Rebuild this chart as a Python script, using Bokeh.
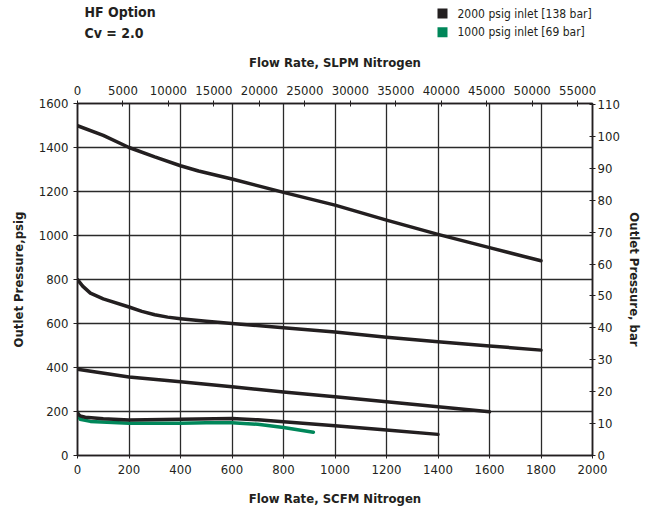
from bokeh.plotting import figure
from bokeh.layouts import column
from bokeh.models import LinearAxis, Range1d, FixedTicker, Label
from bokeh.embed import file_html
from bokeh.resources import INLINE

SCFM_TO_SLPM = 28.3168
PSI_PER_BAR = 14.5038

# axis ticks
scfm_ticks = list(range(0, 2001, 200))
psig_ticks = list(range(0, 1601, 200))
slpm_ticks = list(range(0, 55001, 5000))
bar_ticks = list(range(0, 111, 10))

# 2000 psig inlet curves (SCFM, psig)
c1_x = [0, 100, 200, 300, 400, 470, 600, 800, 1000, 1200, 1400, 1600, 1800]
c1_y = [1499, 1455, 1400, 1357, 1317, 1293, 1257, 1196, 1138, 1070, 1005, 945, 885]

c2_x = [0, 20, 50, 100, 200, 250, 300, 350, 400, 500, 600, 800, 1000, 1200, 1400, 1600, 1800]
c2_y = [800, 770, 738, 712, 675, 655, 640, 629, 622, 610, 600, 581, 561, 538, 517, 498, 479]

c3_x = [0, 200, 400, 600, 800, 1000, 1200, 1400, 1600]
c3_y = [392, 357, 335, 312, 289, 267, 244, 222, 199]

c4_x = [0, 10, 30, 100, 200, 400, 600, 700, 800, 1000, 1200, 1400]
c4_y = [192, 180, 174, 167, 161, 165, 168, 162, 153, 135, 116, 96]

# 1000 psig inlet curve
g_x = [0, 10, 50, 200, 400, 500, 600, 700, 800, 916]
g_y = [196, 165, 155, 147, 147, 149, 149, 142, 127, 106]

series_labels = ["2000 psig inlet [138 bar]", "1000 psig inlet [69 bar]"]
title_lines = ["HF Option", "Cv = 2.0"]

BLACK = "#231f20"
GREEN = "#00875a"
series_colors = [BLACK, GREEN]
FONT = "DejaVu Sans Condensed, Roboto"

W = 650
HEAD_H = 46
BL, BR = 77, 58  # left / right borders of the chart frame (px)

# ---------- header strip (titles + legend), pixel coordinates ----------
head = figure(width=W, height=HEAD_H, y_range=Range1d(HEAD_H, 0),
              x_axis_type=None, y_axis_type=None, output_backend="svg",
              toolbar_location=None, min_border_top=0, min_border_bottom=0,
              outline_line_color=None)
if "frame_align" in head.properties():
    head.frame_align = False
    head.min_border_left = 0
    head.min_border_right = 0
    head.x_range = Range1d(0, W)
else:
    head.min_border_left = BL
    head.min_border_right = BR
    head.x_range = Range1d(BL, W - BR)
head.grid.visible = False

for txt, yy in zip(title_lines, (11.7, 32.3)):
    head.add_layout(Label(x=84, y=yy, text=txt, text_font=FONT, text_font_style="bold",
                          text_font_size="14px", text_color=BLACK, text_baseline="middle"))

leg_y = [13.0, 31.7]
head.quad(left=[437, 437], right=[447, 447],
          top=[y - 5 for y in leg_y], bottom=[y + 5 for y in leg_y],
          fill_color=series_colors, line_color=None)
for txt, yy in zip(series_labels, leg_y):
    head.add_layout(Label(x=457, y=yy, text=txt, text_font=FONT, text_font_size="12px",
                          text_color=BLACK, text_baseline="middle"))

# ---------- main chart ----------
p = figure(width=W, height=467, x_range=Range1d(0, 2000), y_range=Range1d(0, 1600),
           output_backend="svg", toolbar_location=None,
           min_border_left=BL, min_border_right=BR, min_border_top=57, min_border_bottom=58)
p.extra_x_ranges = {"slpm": Range1d(0, 2000 * SCFM_TO_SLPM)}
p.extra_y_ranges = {"bar": Range1d(0, 1600 / PSI_PER_BAR)}
p.outline_line_color = BLACK
p.outline_line_width = 1.5

for g, ticks in ((p.xgrid, scfm_ticks), (p.ygrid, psig_ticks)):
    g.ticker = FixedTicker(ticks=ticks)
    g.grid_line_color = "#2a2a2a"
    g.grid_line_width = 1.3

def style_axis(ax, label, tin, tout, lstand, tstand):
    ax.axis_label = label
    ax.axis_label_text_font = FONT
    ax.axis_label_text_font_style = "bold"
    ax.axis_label_text_font_size = "13px"
    ax.axis_label_text_color = BLACK
    ax.axis_label_standoff = tstand
    ax.major_label_text_font = FONT
    ax.major_label_text_font_size = "13px"
    ax.major_label_text_color = BLACK
    ax.major_label_standoff = lstand
    ax.axis_line_color = BLACK
    ax.axis_line_width = 1.5
    ax.major_tick_line_color = BLACK
    ax.major_tick_line_width = 1
    ax.major_tick_in = tin
    ax.major_tick_out = tout
    ax.minor_tick_line_color = None

p.xaxis.ticker = FixedTicker(ticks=scfm_ticks)
p.yaxis.ticker = FixedTicker(ticks=psig_ticks)
style_axis(p.xaxis[0], "Flow Rate, SCFM Nitrogen", 0, 3, 6, 14)
style_axis(p.yaxis[0], "Outlet Pressure,psig", 3, 4, 5, 10)

top = LinearAxis(x_range_name="slpm", ticker=FixedTicker(ticks=slpm_ticks))
style_axis(top, "Flow Rate, SLPM Nitrogen", 3, 3, 6, 13)
p.add_layout(top, "above")

right = LinearAxis(y_range_name="bar", ticker=FixedTicker(ticks=bar_ticks))
style_axis(right, "Outlet Pressure, bar", 3, 3, 2, 4)
p.add_layout(right, "right")

for xs, ys in ((c1_x, c1_y), (c2_x, c2_y), (c3_x, c3_y)):
    p.line(xs, ys, line_color=BLACK, line_width=3.5, line_join="round", line_cap="round")
p.line(g_x, g_y, line_color=GREEN, line_width=3.5, line_join="round", line_cap="round")
p.line(c4_x, c4_y, line_color=BLACK, line_width=3.5, line_join="round", line_cap="round")

layout = column(head, p, spacing=0)
open("out.html", "w").write(file_html(layout, INLINE))
